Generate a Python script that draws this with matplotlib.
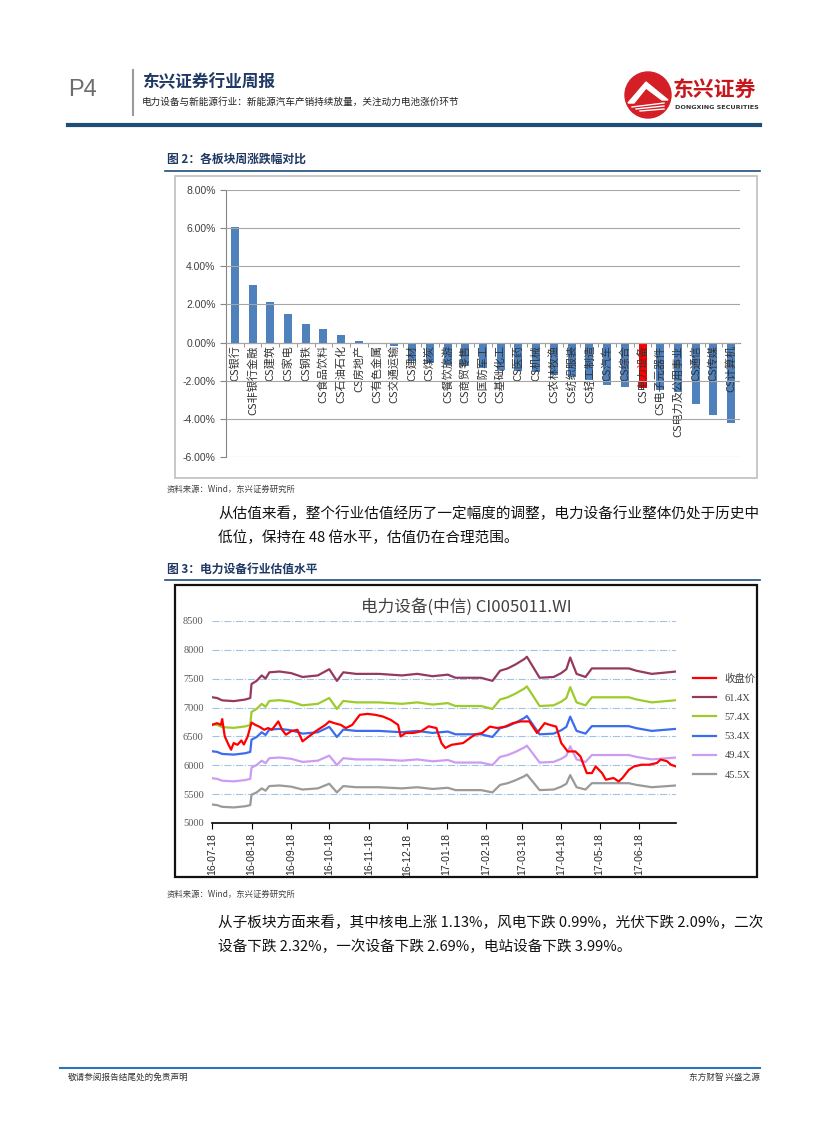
import matplotlib
matplotlib.use('Agg')
from matplotlib import pyplot as plt
from matplotlib.patches import Rectangle, Ellipse, Polygon
from matplotlib.lines import Line2D
import pandas as pd

plt.rcParams['font.family'] = ['Noto Sans CJK SC', 'DejaVu Sans']

W, H = 827, 1122
NAVY = '#1f3864'

# ---- figure 2: weekly change by sector (%)
sectors = ['CS银行', 'CS非银行金融', 'CS建筑', 'CS家电', 'CS钢铁', 'CS食品饮料', 'CS石油石化',
           'CS房地产', 'CS有色金属', 'CS交通运输', 'CS建材', 'CS煤炭', 'CS餐饮旅游', 'CS商贸零售',
           'CS国防军工', 'CS基础化工', 'CS医药', 'CS机械', 'CS农林牧渔', 'CS纺织服装', 'CS轻工制造',
           'CS汽车', 'CS综合', 'CS电力设备', 'CS电子元器件', 'CS电力及公用事业', 'CS通信', 'CS传媒',
           'CS计算机']
weekly_change = [6.05, 3.00, 2.15, 1.50, 0.95, 0.73, 0.40, 0.06, -0.07, -0.20, -0.95, -1.05,
                 -1.15, -1.25, -1.35, -1.45, -1.50, -1.55, -1.70, -1.80, -1.95, -2.25, -2.32,
                 -2.40, -2.50, -2.60, -3.20, -3.80, -4.20]
highlight = 'CS电力设备'

# ---- figure 3: valuation bands (45.5X band) and close price
band_dates = ['2016-07-18', '2016-07-22', '2016-07-26', '2016-08-04', '2016-08-13', '2016-08-17',
              '2016-08-18', '2016-08-22', '2016-08-26', '2016-08-29', '2016-09-01', '2016-09-09',
              '2016-09-18', '2016-09-27', '2016-10-09', '2016-10-18', '2016-10-24', '2016-10-29',
              '2016-11-08', '2016-11-26', '2016-12-14', '2016-12-26', '2017-01-07', '2017-01-19',
              '2017-01-25', '2017-02-14', '2017-02-23', '2017-03-01', '2017-03-07', '2017-03-13',
              '2017-03-20', '2017-03-22', '2017-04-01', '2017-04-12', '2017-04-18', '2017-04-22',
              '2017-04-25', '2017-04-30', '2017-05-07', '2017-05-12', '2017-06-10', '2017-06-16',
              '2017-06-28', '2017-07-17']
band_455 = [5320, 5310, 5280, 5270, 5290, 5310, 5490, 5530, 5600, 5560, 5640, 5650,
            5630, 5580, 5600, 5680, 5530, 5640, 5620, 5620, 5600, 5620, 5590, 5610,
            5570, 5570, 5530, 5660, 5690, 5740, 5810, 5840, 5570, 5580, 5630, 5680,
            5830, 5620, 5580, 5690, 5690, 5660, 5620, 5650]
band_labels = ['61.4X', '57.4X', '53.4X', '49.4X', '45.5X']
band_multiples = [61.4, 57.4, 53.4, 49.4, 45.5]
band_colors = ['#953a5e', '#9dcb2b', '#3a6cf0', '#cc9cf2', '#9a9a9a']

close_dates = ['2016-07-18', '2016-07-22', '2016-07-25', '2016-07-26', '2016-07-28', '2016-07-31',
               '2016-08-02', '2016-08-04', '2016-08-07', '2016-08-10', '2016-08-12', '2016-08-15',
               '2016-08-18', '2016-08-21', '2016-08-24', '2016-08-28', '2016-08-31', '2016-09-03',
               '2016-09-08', '2016-09-11', '2016-09-14', '2016-09-18', '2016-09-23', '2016-09-27',
               '2016-10-02', '2016-10-09', '2016-10-15', '2016-10-18', '2016-10-22', '2016-10-27',
               '2016-10-31', '2016-11-05', '2016-11-11', '2016-11-17', '2016-11-23', '2016-11-29',
               '2016-12-05', '2016-12-11', '2016-12-13', '2016-12-17', '2016-12-23', '2016-12-29',
               '2017-01-04', '2017-01-10', '2017-01-14', '2017-01-17', '2017-01-22', '2017-01-31',
               '2017-02-09', '2017-02-15', '2017-02-21', '2017-02-27', '2017-03-05', '2017-03-11',
               '2017-03-17', '2017-03-24', '2017-03-30', '2017-04-05', '2017-04-09', '2017-04-14',
               '2017-04-18', '2017-04-23', '2017-04-29', '2017-05-03', '2017-05-08', '2017-05-12',
               '2017-05-15', '2017-05-20', '2017-05-23', '2017-05-29', '2017-06-02', '2017-06-05',
               '2017-06-10', '2017-06-14', '2017-06-20', '2017-06-26', '2017-07-02', '2017-07-05',
               '2017-07-10', '2017-07-13', '2017-07-17']
close_price = [6700, 6730, 6700, 6800, 6500, 6355, 6270, 6385, 6355, 6430, 6360, 6500,
               6740, 6700, 6670, 6615, 6645, 6615, 6760, 6615, 6530, 6590, 6615, 6415,
               6500, 6615, 6700, 6760, 6730, 6700, 6645, 6700, 6875, 6890, 6875, 6845,
               6790, 6700, 6500, 6560, 6560, 6590, 6675, 6645, 6385, 6300, 6355, 6385,
               6530, 6560, 6670, 6645, 6670, 6730, 6760, 6760, 6560, 6730, 6700, 6670,
               6385, 6240, 6240, 6155, 5865, 5865, 5980, 5865, 5750, 5780, 5720, 5780,
               5920, 5980, 6010, 6010, 6040, 6100, 6070, 6010, 5980]
month_ticks = ['2016-07-18', '2016-08-18', '2016-09-18', '2016-10-18', '2016-11-18', '2016-12-18',
               '2017-01-18', '2017-02-18', '2017-03-18', '2017-04-18', '2017-05-18', '2017-06-18']


def fx(x):
    return x / W


def fy(y):
    return 1 - y / H


def ftext(fig, x, y, s, **kw):
    fig.text(fx(x), fy(y), s, **kw)


def hline(fig, x0, x1, y, color, lw):
    fig.add_artist(Line2D([fx(x0), fx(x1)], [fy(y), fy(y)], color=color, lw=lw))


def box(fig, x0, y0, x1, y1, color, lw):
    fig.add_artist(Rectangle((fx(x0), fy(y1)), fx(x1) - fx(x0), fy(y0) - fy(y1),
                             fill=False, edgecolor=color, lw=lw))


def draw_header(fig):
    ftext(fig, 68, 90, 'P4', fontsize=17, color='#6d6d6d', va='center', family='Liberation Sans')
    fig.add_artist(Line2D([fx(133), fx(133)], [fy(70), fy(115)], color='#9a9a9a', lw=1.5))
    ftext(fig, 142, 82, '东兴证券行业周报', fontsize=12, color=NAVY, va='center', weight='bold')
    ftext(fig, 142, 102, '电力设备与新能源行业：新能源汽车产销持续放量，关注动力电池涨价环节',
          fontsize=6.9, color='#222222', va='center')
    # logo
    fig.add_artist(Ellipse((fx(648), fy(95)), 46 / W, 46 / H, color='#d51f26'))
    fig.add_artist(Polygon([(fx(628), fy(103)), (fx(646), fy(82)), (fx(668), fy(100)),
                            (fx(662), fy(100)), (fx(646), fy(88)), (fx(634), fy(103))],
                           closed=True, color='white'))
    for k in range(3):
        fig.add_artist(Line2D([fx(632 + 4 * k), fx(664)], [fy(107 + 2 * k), fy(103 + 3 * k)],
                              color='white', lw=1))
    ftext(fig, 673, 89, '东兴证券', fontsize=15, color='#c8161d', va='center', weight='bold')
    ftext(fig, 675, 108, 'DONGXING SECURITIES', fontsize=4.6, color='#333333', va='center',
          weight='bold', family='DejaVu Sans')
    hline(fig, 68, 760, 125, '#1f4e79', 3)


def draw_sector_chart(fig):
    ax = fig.add_axes([fx(226), fy(457), fx(740) - fx(226), fy(190) - fy(457)])
    # move the category axis to zero first, it resets the tick styling
    ax.spines['bottom'].set_position(('data', 0))
    ax.set_axisbelow(False)  # category names sit on top of the bars
    pos = list(range(len(sectors)))
    colors = ['#ff0000' if s == highlight else '#4f81bd' for s in sectors]
    ax.bar(pos, weekly_change, width=0.45, color=colors, zorder=2)
    ax.set_ylim(-6, 8)
    ax.set_xlim(-0.5, len(sectors) - 0.5)
    ax.set_yticks(range(-6, 9, 2))
    ax.set_yticklabels(['{:.2f}%'.format(v) for v in range(-6, 9, 2)], fontsize=7.5,
                       color='#404040', family='Liberation Sans')
    ax.yaxis.grid(True, color='#a6a6a6', lw=0.8)
    ax.tick_params(axis='y', length=4, color='#868686')
    ax.set_xticks(pos)
    ax.set_xticklabels(sectors, rotation=90, fontsize=8, color='#333333', va='top', ha='center')
    ax.set_xticks([p + 0.5 for p in pos[:-1]], minor=True)
    ax.tick_params(axis='x', which='major', length=0, pad=2)
    ax.tick_params(axis='x', which='minor', length=3, color='#868686', direction='out')
    for sp in ['top', 'right']:
        ax.spines[sp].set_visible(False)
    ax.spines['left'].set_color('#868686')
    ax.spines['bottom'].set_color('#868686')
    return ax


def draw_valuation_chart(fig):
    ax = fig.add_axes([fx(212), fy(823), fx(676) - fx(212), fy(621) - fy(823)])
    bd = pd.to_datetime(band_dates)
    cd = pd.to_datetime(close_dates)
    ax.plot(cd, close_price, color='#ff0000', lw=1.6, label='收盘价', zorder=5)
    for lab, m, c in zip(band_labels, band_multiples, band_colors):
        vals = [v * m / 45.5 for v in band_455]
        ax.plot(bd, vals, color=c, lw=1.6, label=lab)
    ax.set_ylim(5000, 8500)
    ax.set_xlim(pd.Timestamp(band_dates[0]), pd.Timestamp(band_dates[-1]))
    ax.set_yticks(range(5000, 8501, 500))
    ax.set_yticklabels([str(v) for v in range(5000, 8501, 500)], fontsize=7.5,
                       color='#595959', family='Liberation Serif')
    ax.tick_params(axis='y', length=0, pad=6)
    ax.yaxis.grid(True, color='#9dc3e6', lw=0.8, linestyle='-.')
    mt = pd.to_datetime(month_ticks)
    ax.set_xticks(mt)
    ax.set_xticklabels([d.strftime('%y-%m-%d') for d in mt], rotation=90, fontsize=7.5,
                       color='#262626', family='Liberation Sans')
    ax.tick_params(axis='x', length=4, color='black', direction='out')
    for sp in ['top', 'right', 'left']:
        ax.spines[sp].set_visible(False)
    ax.spines['bottom'].set_color('black')
    ax.spines['bottom'].set_linewidth(1.2)
    ax.legend(loc='upper left', bbox_to_anchor=(fx(684), fy(664)), bbox_transform=fig.transFigure,
              frameon=False, handlelength=2.2, labelspacing=0.95,
              prop={'family': ['Liberation Serif', 'Noto Sans CJK SC'], 'size': 7.5})
    for t in ax.get_legend().get_texts():
        t.set_color('#404040')
    ftext(fig, 466, 607, '电力设备(中信) CI005011.WI', fontsize=12, color='#404040',
          ha='center', va='center')
    return ax


fig = plt.figure(figsize=(W / 100, H / 100), dpi=100)
draw_header(fig)

ftext(fig, 167, 159, '图 2：各板块周涨跌幅对比', fontsize=8.5, color=NAVY, va='center', weight='bold')
hline(fig, 165, 760, 171, '#1f4e79', 1.2)
box(fig, 175, 176, 757, 478, '#bfbfbf', 1.2)
draw_sector_chart(fig)
ftext(fig, 167, 489, '资料来源：Wind，东兴证券研究所', fontsize=6, color='#404040', va='center',
      style='italic')

ftext(fig, 218, 514, '从估值来看，整个行业估值经历了一定幅度的调整，电力设备行业整体仍处于历史中',
      fontsize=10.5, color='#111111', va='center')
ftext(fig, 218, 538, '低位，保持在 48 倍水平，估值仍在合理范围。', fontsize=10.5, color='#111111',
      va='center')

ftext(fig, 167, 569, '图 3：电力设备行业估值水平', fontsize=8.5, color=NAVY, va='center', weight='bold')
hline(fig, 165, 760, 580, '#1f4e79', 1.2)
box(fig, 175, 585, 757, 877, '#111111', 1.6)
draw_valuation_chart(fig)
ftext(fig, 167, 894, '资料来源：Wind，东兴证券研究所', fontsize=6, color='#404040', va='center',
      style='italic')

ftext(fig, 218, 923, '从子板块方面来看，其中核电上涨 1.13%，风电下跌 0.99%，光伏下跌 2.09%，二次',
      fontsize=10.5, color='#111111', va='center')
ftext(fig, 218, 947, '设备下跌 2.32%，一次设备下跌 2.69%，电站设备下跌 3.99%。', fontsize=10.5,
      color='#111111', va='center')

hline(fig, 60, 760, 1068, '#2e75b6', 1.5)
ftext(fig, 68, 1077, '敬请参阅报告结尾处的免责声明', fontsize=6.2, color='#333333', va='center')
ftext(fig, 760, 1077, '东方财智 兴盛之源', fontsize=6.2, color='#333333', va='center', ha='right')

fig.savefig('out.png', dpi=100)
